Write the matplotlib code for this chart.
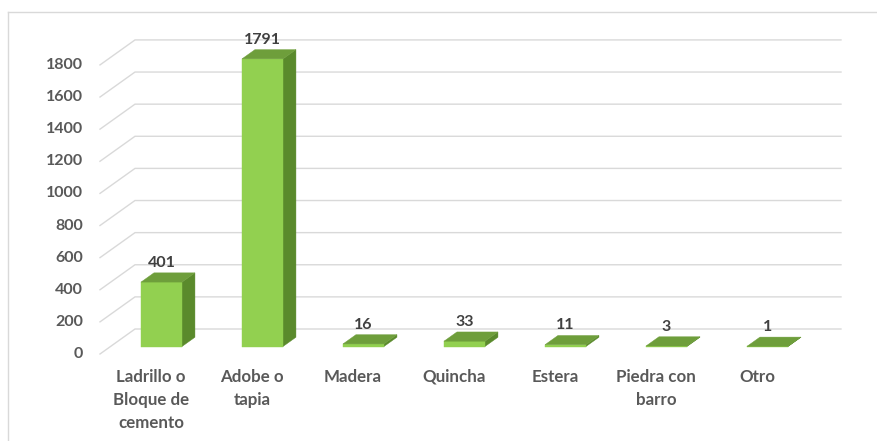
import matplotlib.pyplot as plt
from matplotlib.patches import Polygon
from matplotlib.lines import Line2D

# Material de las paredes de la vivienda
categorias = ["Ladrillo o\nBloque de\ncemento", "Adobe o\ntapia", "Madera",
              "Quincha", "Estera", "Piedra con\nbarro", "Otro"]
viviendas = [401, 1791, 16, 33, 11, 3, 1]
ticks_y = [0, 200, 400, 600, 800, 1000, 1200, 1400, 1600, 1800]

# colores estilo Excel 3D
C_FRENTE = "#92D050"
C_TECHO = "#6E9E3B"
C_LADO = "#5A8A2C"
C_GRID = "#D9D9D9"
C_TEXTO = "#595959"

W, H, DPI = 877, 441, 100
PX_X = 101.0      # px por categoria
PX_Y = 0.1606     # px por unidad
X0_PX, Y0_PX = 151.0, 87.0

# vector de profundidad (fondo completo) en unidades de datos
DX = 35.0 / PX_X
DY = 25.0 / PX_Y
D0, D1 = 0.30, 0.67   # profundidad de la cara frontal y trasera de las barras
ANCHO = 41.0 / PX_X


def p(x, v, d):
    return (x + d * DX, v + d * DY)


fig = plt.figure(figsize=(W / DPI, H / DPI), dpi=DPI)
ax = fig.add_axes([0, 0, 1, 1])
ax.set_xlim(-X0_PX / PX_X, (W - X0_PX) / PX_X)
ax.set_ylim(-Y0_PX / PX_Y, (H - Y0_PX) / PX_Y)
ax.axis("off")

# borde del area del grafico
fig.add_artist(Line2D([8 / W, 1], [1 - 12 / H, 1 - 12 / H], color=C_GRID, lw=1.0))
fig.add_artist(Line2D([8 / W, 8 / W], [0, 1 - 12 / H], color=C_GRID, lw=1.0))

# lineas de division: pared del fondo y pared lateral
x_izq, x_der = -0.505, 6.485
for t in ticks_y:
    a = p(x_izq, t, 0)
    b = p(x_izq, t, 1)
    c = p(x_der, t, 1)
    ax.plot([a[0], b[0], c[0]], [a[1], b[1], c[1]], color=C_GRID, lw=1.0,
            solid_joinstyle="miter", zorder=1)
    ax.text(-0.673, t, str(t), ha="right", va="center", fontsize=11.5,
            fontweight="bold", color=C_TEXTO, family="Lato")

# barras
for i, v in enumerate(viviendas):
    xl, xr = i - ANCHO / 2, i + ANCHO / 2
    frente = [p(xl, 0, D0), p(xr, 0, D0), p(xr, v, D0), p(xl, v, D0)]
    lado = [p(xr, 0, D0), p(xr, 0, D1), p(xr, v, D1), p(xr, v, D0)]
    techo = [p(xl, v, D0), p(xr, v, D0), p(xr, v, D1), p(xl, v, D1)]
    for pts, col in ((lado, C_LADO), (frente, C_FRENTE), (techo, C_TECHO)):
        ax.add_patch(Polygon(pts, closed=True, facecolor=col, edgecolor=col,
                             lw=0.3, zorder=3))
    lx, ly = p(i, v, D1)
    ax.annotate(str(v), (i + D0 * DX, ly), xytext=(0, 7.2), textcoords="offset points",
                ha="center", va="center", fontsize=11.5, fontweight="bold",
                color="#404040", family="Lato", zorder=4)
    ax.text(i, (H - 369 - Y0_PX) / PX_Y, categorias[i], ha="center", va="top",
            fontsize=12.2, fontweight="bold", color=C_TEXTO, family="Lato",
            linespacing=1.55)

fig.savefig("out.png", dpi=DPI)
